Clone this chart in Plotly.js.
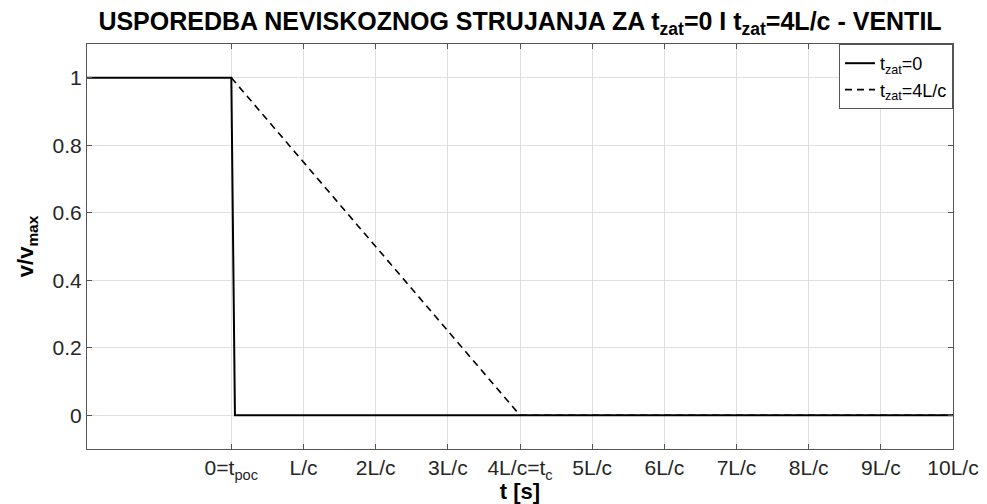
<!DOCTYPE html>
<html>
<head>
<meta charset="utf-8">
<script src="https://cdn.plot.ly/plotly-3.0.1.min.js"></script>
<style>html,body{margin:0;padding:0;background:#fff;}#chart{width:987px;height:504px;}</style>
</head>
<body>
<div id="chart"></div>
<script>
// Data
const tSolid = [-2, 0, 0.05, 10];
const vSolid = [1, 1, 0, 0];
const tDash = [0, 4, 10];
const vDash = [1, 0, 0];
const tickVals = [0, 1, 2, 3, 4, 5, 6, 7, 8, 9, 10];
const tickLabels = ['0=t<sub>poc</sub>', 'L/c', '2L/c', '3L/c', '4L/c=t<sub>c</sub>', '5L/c', '6L/c', '7L/c', '8L/c', '9L/c', '10L/c'];
const yTickVals = [0, 0.2, 0.4, 0.6, 0.8, 1];
const yTickLabels = ['0', '0.2', '0.4', '0.6', '0.8', '1'];
const seriesNames = ['t<sub>zat</sub>=0', 't<sub>zat</sub>=4L/c'];

const F = 'Liberation Sans, Arial, sans-serif';
const traces = [
  {x: tDash, y: vDash, mode: 'lines', name: seriesNames[1], line: {color: '#000', width: 1.6, dash: '7px,5px'}},
  {x: tSolid, y: vSolid, mode: 'lines', name: seriesNames[0], line: {color: '#000', width: 2}}
];
const axisCommon = {
  showline: true, linecolor: '#555', linewidth: 1, mirror: 'allticks',
  ticks: 'inside', ticklen: 5, tickcolor: '#555',
  showgrid: true, gridcolor: '#dedede', gridwidth: 1, zeroline: false,
  tickfont: {family: F, size: 21, color: '#262626'}, tickangle: 0
};
const layout = {
  width: 987, height: 504,
  margin: {l: 87, r: 34, t: 44, b: 55},
  paper_bgcolor: '#fff', plot_bgcolor: '#fff',
  title: {text: 'USPOREDBA NEVISKOZNOG STRUJANJA ZA t<sub>zat</sub>=0 I t<sub>zat</sub>=4L/c - VENTIL',
    font: {family: F, size: 25, color: '#000', weight: 'bold'},
    x: 0.5, xref: 'paper', xanchor: 'center', y: 1 - 12/504, yref: 'container', yanchor: 'top'},
  xaxis: Object.assign({}, axisCommon, {range: [-2, 10], tickvals: tickVals, ticktext: tickLabels,
    title: {text: '<b>t [s]</b>', font: {family: F, size: 22, color: '#000'}, standoff: 0}}),
  yaxis: Object.assign({}, axisCommon, {range: [-0.1, 1.1], tickvals: yTickVals, ticktext: yTickLabels,
    title: {text: '<b>v/v<sub>max</sub></b>', font: {family: F, size: 22, color: '#000'}, standoff: 12}}),
  legend: {x: 1, y: 1, xanchor: 'right', yanchor: 'top', bgcolor: '#fff', bordercolor: '#555', borderwidth: 1,
    font: {family: F, size: 18, color: '#000'}, itemwidth: 30, tracegroupgap: 0, traceorder: 'reversed'},
  showlegend: true
};
Plotly.newPlot('chart', traces, layout, {displayModeBar: false, staticPlot: true});
</script>
</body>
</html>
